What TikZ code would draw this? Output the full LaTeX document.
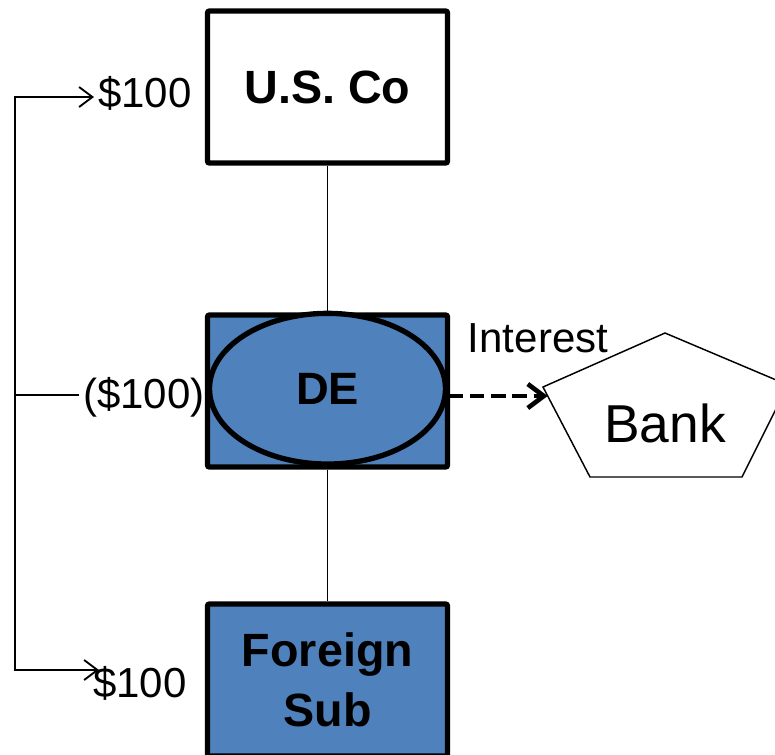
\documentclass[tikz,border=0pt]{standalone}
\usepackage{fontspec}
\setmainfont{Liberation Sans}
\usetikzlibrary{arrows.meta,calc,shapes.geometric}
\definecolor{deblue}{RGB}{79,129,189}
\begin{document}
\begin{tikzpicture}[x=0.75pt,y=-0.75pt]
\tikzstyle{every node}+=[inner sep=0pt]
\tikzstyle{entity}=[draw=black,line width=4pt,rounded corners=1.5pt,minimum width=180pt,minimum height=114pt,align=center,font=\fontsize{35}{45}\selectfont\bfseries]
\tikzstyle{amount}=[font=\fontsize{31.5}{36}\selectfont,inner sep=3pt]
\tikzstyle{bracket}=[line width=1.4pt,-{Straight Barb[length=10pt,width=15pt]}]
\useasboundingbox (0,0) rectangle (775,754);
\clip (0,0) rectangle (775,754);
\node [entity,fill=white] (usco) at (327.5,87) {U.S. Co};
\node [entity,fill=deblue] (derect) at (327.5,391) {};
\node [entity,ellipse,fill=deblue,minimum width=177pt,minimum height=113pt,font=\fontsize{34}{40}\selectfont\bfseries] (deell) at (327.5,388.7) {DE};
\node [entity,fill=deblue] (fsub) at (327.5,680) {Foreign\\Sub};
\draw [line width=1.1pt] (usco) -- (deell);
\draw [line width=1.1pt] (derect) -- (fsub);
\coordinate (pt) at (665,333);
\coordinate (pr) at (788,385);
\coordinate (pbr) at (742,477);
\coordinate (pbl) at (590,477);
\coordinate (pl) at (543,387);
\draw [line width=1.1pt,line join=miter] (pt) -- (pr) -- (pbr) -- (pbl) -- (pl) -- cycle;
\node [font=\fontsize{40}{44}\selectfont,anchor=base] (bank) at (665,442) {Bank};
\coordinate (bankin) at ($(pl)!0.1!(pbl)$);
\node [amount,anchor=base] (interest) at (538,352) {Interest};
\draw [line width=3.5pt,dash pattern=on 11pt off 5pt,-{Straight Barb[length=12pt,width=18pt]}] (deell.east |- bankin) -- (bankin);
\coordinate (brtop) at (15,97);
\coordinate (brmid) at (15,395);
\coordinate (brbot) at (15,670);
\node [amount,anchor=base west] (top100) at (94,107) {\$100};
\node [amount,anchor=base west] (mid100) at (79,408) {(\$100)};
\node [amount,anchor=base west] (bot100) at (89,697) {\$100};
\draw [bracket,line join=miter] (brmid) -- (brtop) -- (brtop -| top100.west);
\draw [bracket,line join=miter] (brmid) -- (brbot) -- ($(brbot -| bot100.west)+(10,0)$);
\draw [line width=1.4pt] (brmid) -- (brmid -| mid100.west);
\end{tikzpicture}
\end{document}
